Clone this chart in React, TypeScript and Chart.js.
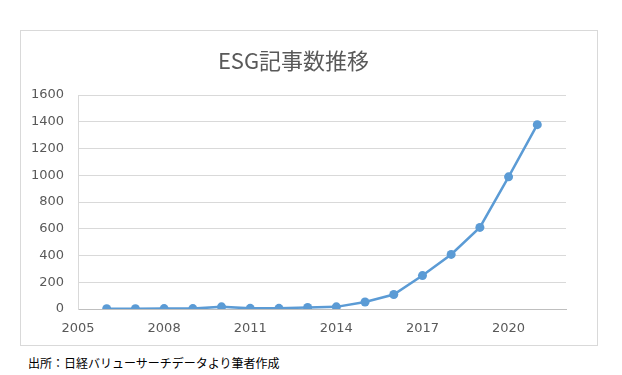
import React, { useEffect, useRef } from "react";
import { Chart, registerables } from "chart.js";

Chart.register(...registerables);

const titleText = "ESG記事数推移";
const sourceText = "出所：日経バリューサーチデータより筆者作成";
const years = [2006, 2007, 2008, 2009, 2010, 2011, 2012, 2013, 2014, 2015, 2016, 2017, 2018, 2019, 2020, 2021];
const articleCounts = [2, 2, 3, 3, 16, 5, 5, 12, 16, 52, 108, 250, 408, 610, 988, 1378];
const xTicks = [2005, 2008, 2011, 2014, 2017, 2020];
const yTicks = [0, 200, 400, 600, 800, 1000, 1200, 1400, 1600];

export default function App() {
  const ref = useRef<HTMLCanvasElement | null>(null);

  useEffect(() => {
    if (!ref.current) return;
    const tickFont = { family: "'DejaVu Sans', Verdana, sans-serif", size: 13 };
    const chart = new Chart(ref.current, {
      type: "line",
      data: {
        datasets: [
          {
            data: years.map((y, i) => ({ x: y, y: articleCounts[i] })),
            borderColor: "#5b9bd5",
            backgroundColor: "#5b9bd5",
            borderWidth: 2.5,
            pointRadius: 4.5,
            pointBorderWidth: 0,
            tension: 0,
          },
        ],
      },
      options: {
        animation: false,
        responsive: false,
        maintainAspectRatio: false,
        layout: { padding: { left: 0, right: 31, top: 0, bottom: 0 } },
        plugins: {
          legend: { display: false },
          tooltip: { enabled: false },
          title: {
            display: true,
            text: titleText,
            color: "#595959",
            font: { family: "'Noto Sans CJK JP', sans-serif", size: 22, weight: "normal" },
            padding: { top: 16, bottom: 21.6 },
          },
        },
        scales: {
          x: {
            type: "linear",
            min: 2005,
            max: 2022,
            afterBuildTicks: (axis: any) => {
              axis.ticks = xTicks.map((v) => ({ value: v }));
            },
            afterFit: (axis: any) => {
              axis.height = 36;
            },
            ticks: {
              color: "#595959",
              font: tickFont,
              padding: 12,
              maxRotation: 0,
              autoSkip: false,
              callback: (v: any) => String(v),
            },
            grid: { display: false, drawTicks: false },
            border: { display: true, color: "#bfbfbf", width: 1 },
          },
          y: {
            min: 0,
            max: 1600,
            afterBuildTicks: (axis: any) => {
              axis.ticks = yTicks.map((v) => ({ value: v }));
            },
            afterFit: (axis: any) => {
              axis.width = 57;
            },
            ticks: {
              color: "#595959",
              font: tickFont,
              padding: 14,
              callback: (v: any) => String(v),
            },
            grid: { color: "#d9d9d9", drawTicks: false, lineWidth: 1 },
            border: { display: true, color: "#d9d9d9", width: 1 },
          },
        },
      },
    });
    return () => chart.destroy();
  }, []);

  return (
    <div style={{ position: "fixed", left: 0, top: 0, width: 622, height: 375, background: "#fff" }}>
      <div
        style={{
          position: "absolute",
          left: 20,
          top: 30,
          width: 576,
          height: 314,
          border: "1px solid #d9d9d9",
        }}
      >
        <canvas ref={ref} width={576} height={314} style={{ display: "block", width: 576, height: 314 }} />
      </div>
      <div
        style={{
          position: "absolute",
          left: 28,
          top: 354,
          fontFamily: "'Noto Sans CJK JP', sans-serif",
          fontSize: 12,
          lineHeight: "18px",
          color: "#000",
          whiteSpace: "nowrap",
        }}
      >
        {sourceText}
      </div>
    </div>
  );
}
